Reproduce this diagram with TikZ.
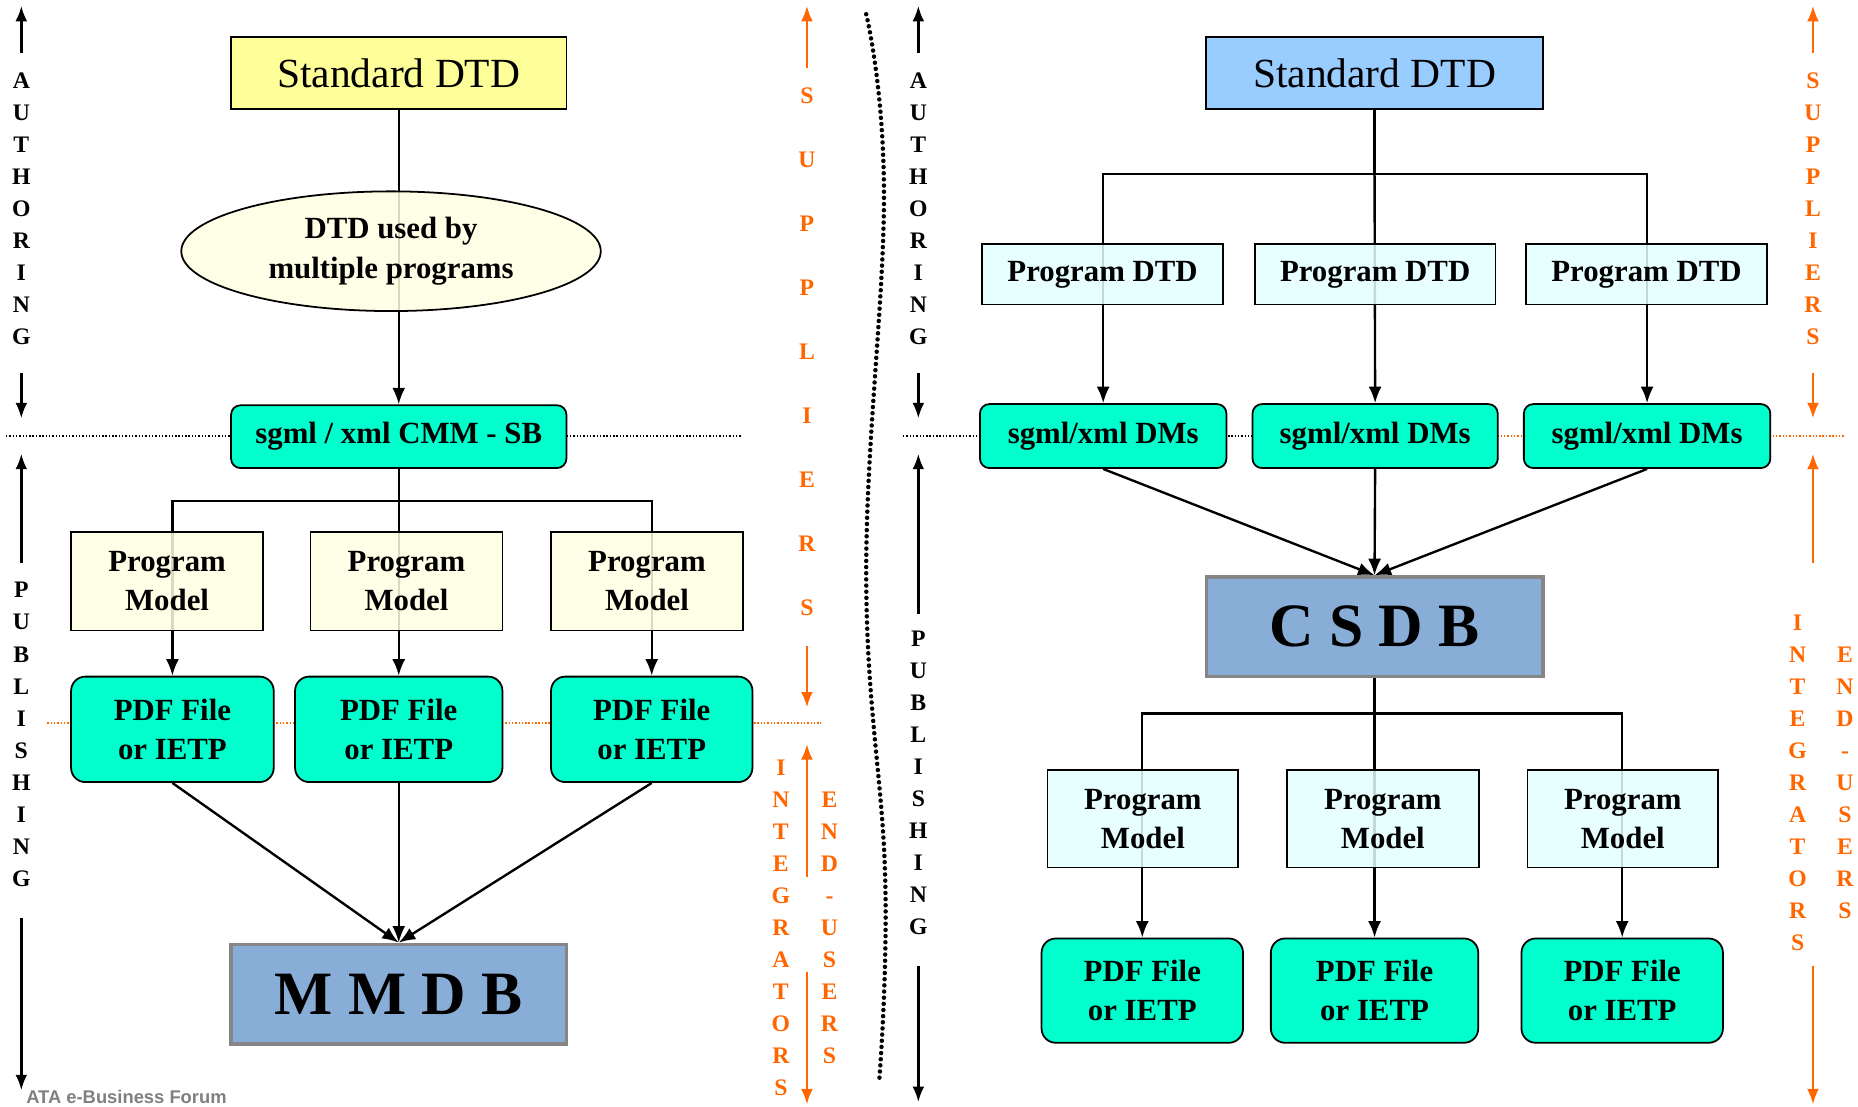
\documentclass[tikz,border=0pt]{standalone}
\usepackage{fontspec}
\setmainfont{Liberation Serif}
\newfontfamily\footfont{Liberation Sans}
\usetikzlibrary{arrows.meta,shapes.geometric}
\definecolor{yel}{HTML}{FFFF99}
\definecolor{lyel}{HTML}{FFFFE5}
\definecolor{cyn}{HTML}{00FFCC}
\definecolor{lblue}{HTML}{99CCFF}
\definecolor{lcyn}{HTML}{E5FFFF}
\definecolor{dbblue}{HTML}{88AED8}
\definecolor{org}{HTML}{FF6600}
\pgfdeclarelayer{back}
\pgfdeclarelayer{bg}
\pgfsetlayers{back,bg,main}
\tikzset{
  box/.style={draw=black,line width=1.5pt,inner sep=0pt,align=center,
    font=\bfseries\fontsize{26}{33}\selectfont},
  stdbox/.style={box,minimum width=283pt,minimum height=61pt,
    font=\fontsize{35}{40}\selectfont},
  soft/.style={fill opacity=0.85,text opacity=1},
  cyanbox/.style={box,fill=cyn,rounded corners=12pt},
  dbbox/.style={draw=gray!95,line width=3pt,fill=dbblue,minimum width=283pt,
    minimum height=84pt,inner sep=0pt,font=\bfseries\fontsize{52}{56}\selectfont},
  conn/.style={line width=2pt,draw=black},
  arr/.style={conn,-{Latex[length=14pt,width=11pt]}},
  side/.style={line width=2pt,-{Latex[length=13pt,width=10pt]}},
  letters/.style={align=center,inner sep=0pt,font=\bfseries\fontsize{20}{27}\selectfont},
  sepdots/.style={line width=1.2pt,dash pattern=on 1.2pt off 1.6pt},
}
\begin{document}
\begin{tikzpicture}[x=1pt,y=-1pt]
\begin{pgfonlayer}{back}
\fill[white] (0,0) rectangle (1568,934);
\end{pgfonlayer}
\useasboundingbox (0,0) rectangle (1568,934);

% ---------------- LEFT PANEL ----------------
\node[stdbox,fill=yel] (sd1) at (336.5,61.5) {Standard DTD};
\node[ellipse,draw=black,line width=1.5pt,fill=lyel,soft,minimum width=354pt,minimum height=101pt,
      inner sep=0pt,align=center,font=\bfseries\fontsize{26}{33}\selectfont] (ell) at (330,212)
      {DTD used by\\multiple programs};
\node[cyanbox,rounded corners=8pt,minimum width=283pt,minimum height=53pt] (cmm) at (336.5,368.5) {sgml / xml CMM - SB};
\node[box,fill=lyel,soft,minimum width=162pt,minimum height=83pt] (pm1) at (141,490.5) {Program\\Model};
\node[box,fill=lyel,soft,minimum width=162pt,minimum height=83pt] (pm2) at (343,490.5) {Program\\Model};
\node[box,fill=lyel,soft,minimum width=162pt,minimum height=83pt] (pm3) at (546,490.5) {Program\\Model};
\node[cyanbox,minimum width=171pt,minimum height=89pt] (pdf1) at (145.5,615.5) {PDF File\\or IETP};
\node[cyanbox,minimum width=175pt,minimum height=89pt] (pdf2) at (336.5,615.5) {PDF File\\or IETP};
\node[cyanbox,minimum width=170pt,minimum height=89pt] (pdf3) at (550,615.5) {PDF File\\or IETP};
\node[dbbox] (mmdb) at (336.5,839) {M M D B};
\coordinate (bar1) at (336.5,423);

% ---------------- RIGHT PANEL ----------------
\node[stdbox,fill=lblue,minimum width=284pt] (sd2) at (1160,61.5) {Standard DTD};
\node[box,fill=lcyn,soft,minimum width=203pt,minimum height=51pt] (pd1) at (930.5,231.5) {Program DTD};
\node[box,fill=lcyn,soft,minimum width=203pt,minimum height=51pt] (pd2) at (1160.5,231.5) {Program DTD};
\node[box,fill=lcyn,soft,minimum width=203pt,minimum height=51pt] (pd3) at (1389.5,231.5) {Program DTD};
\node[cyanbox,rounded corners=8pt,minimum width=208pt,minimum height=54pt] (dm1) at (931,368) {sgml/xml DMs};
\node[cyanbox,rounded corners=8pt,minimum width=207pt,minimum height=54pt] (dm2) at (1160.5,368) {sgml/xml DMs};
\node[cyanbox,rounded corners=8pt,minimum width=208pt,minimum height=54pt] (dm3) at (1390,368) {sgml/xml DMs};
\node[dbbox,minimum width=284pt] (csdb) at (1160,529) {C S D B};
\node[box,fill=lcyn,soft,minimum width=161pt,minimum height=82pt] (pmr1) at (964.5,691) {Program\\Model};
\node[box,fill=lcyn,soft,minimum width=162pt,minimum height=82pt] (pmr2) at (1167,691) {Program\\Model};
\node[box,fill=lcyn,soft,minimum width=161pt,minimum height=82pt] (pmr3) at (1369.5,691) {Program\\Model};
\node[cyanbox,minimum width=170pt,minimum height=88pt] (pdfr1) at (964,836) {PDF File\\or IETP};
\node[cyanbox,minimum width=175pt,minimum height=88pt] (pdfr2) at (1160,836) {PDF File\\or IETP};
\node[cyanbox,minimum width=170pt,minimum height=88pt] (pdfr3) at (1369,836) {PDF File\\or IETP};
\coordinate (bar2) at (1160,147);
\coordinate (bar3) at (1160,602);

% ---------------- CONNECTORS (behind boxes) ----------------
\begin{pgfonlayer}{bg}
  \draw[arr] (sd1.south) -- (cmm.north);
  \draw[conn] (cmm.south) -- (bar1);
  \draw[arr] (bar1) -| (pdf1.north);
  \draw[arr] (bar1) -- (pdf2.north);
  \draw[arr] (bar1) -| (pdf3.north);
  \draw[arr] (pdf1.south) -- (mmdb.north);
  \draw[arr] (pdf2.south) -- (mmdb.north);
  \draw[arr] (pdf3.south) -- (mmdb.north);

  \draw[conn] (sd2.south) -- (bar2);
  \draw[arr] (bar2) -| (dm1.north);
  \draw[arr] (bar2) -- (dm2.north);
  \draw[arr] (bar2) -| (dm3.north);
  \draw[arr] (dm1.south) -- (csdb.north);
  \draw[arr] (dm2.south) -- (csdb.north);
  \draw[arr] (dm3.south) -- (csdb.north);
  \draw[conn] (csdb.south) -- (bar3);
  \draw[arr] (bar3) -| (pdfr1.north);
  \draw[arr] (bar3) -- (pdfr2.north);
  \draw[arr] (bar3) -| (pdfr3.north);

  % separators
  \coordinate (s1a) at (5,368); \coordinate (s1b) at (625,368);
  \draw[sepdots] (s1a) -- (s1b);
  \coordinate (s2a) at (40,610); \coordinate (s2b) at (693,610);
  \draw[sepdots,draw=org] (s2a) -- (s2b);
  \coordinate (s3a) at (762,368); \coordinate (s3b) at (1160,368); \coordinate (s3c) at (1557,368);
  \draw[sepdots] (s3a) -- (s3b);
  \draw[sepdots,draw=org] (s3b) -- (s3c);
\end{pgfonlayer}

% ---------------- SIDE LABELS ----------------
% left black column
\node[letters] (authL) at (18,176) {A\\U\\T\\H\\O\\R\\I\\N\\G};
\node[letters,font=\bfseries\fontsize{20}{27.1}\selectfont] (pubL) at (18,620) {P\\U\\B\\L\\I\\S\\H\\I\\N\\G};
\coordinate (la1) at (18,45); \coordinate (la2) at (18,5);
\coordinate (la3) at (18,315); \coordinate (la4) at (18,353);
\coordinate (la5) at (18,475); \coordinate (la6) at (18,383);
\coordinate (la7) at (18,775); \coordinate (la8) at (18,920);
\draw[side] (la1) -- (la2); \draw[side] (la3) -- (la4);
\draw[side] (la5) -- (la6); \draw[side] (la7) -- (la8);

% right black column
\node[letters] (authR) at (775,176) {A\\U\\T\\H\\O\\R\\I\\N\\G};
\node[letters] (pubR) at (775,661) {P\\U\\B\\L\\I\\S\\H\\I\\N\\G};
\coordinate (ra1) at (775,45); \coordinate (ra2) at (775,5);
\coordinate (ra3) at (775,315); \coordinate (ra4) at (775,353);
\coordinate (ra5) at (775,518); \coordinate (ra6) at (775,383);
\coordinate (ra7) at (775,815); \coordinate (ra8) at (775,930);
\draw[side] (ra1) -- (ra2); \draw[side] (ra3) -- (ra4);
\draw[side] (ra5) -- (ra6); \draw[side] (ra7) -- (ra8);

% left orange column
\node[letters,text=org,font=\bfseries\fontsize{20}{54}\selectfont] (supL) at (681,297) {S\\U\\P\\P\\L\\I\\E\\R\\S};
\node[letters,text=org] (intL) at (659,783) {I\\N\\T\\E\\G\\R\\A\\T\\O\\R\\S};
\node[letters,text=org] (endL) at (700,783) {E\\N\\D\\-\\U\\S\\E\\R\\S};
\coordinate (lo1) at (681,57); \coordinate (lo2) at (681,5);
\coordinate (lo3) at (681,545); \coordinate (lo4) at (681,597);
\coordinate (lo5) at (681,740); \coordinate (lo6) at (681,628);
\coordinate (lo7) at (681,820); \coordinate (lo8) at (681,932);
\draw[side,draw=org,color=org] (lo1) -- (lo2); \draw[side,draw=org,color=org] (lo3) -- (lo4);
\draw[side,draw=org,color=org] (lo5) -- (lo6); \draw[side,draw=org,color=org] (lo7) -- (lo8);

% right orange column
\node[letters,text=org] (supR) at (1530,176) {S\\U\\P\\P\\L\\I\\E\\R\\S};
\node[letters,text=org] (intR) at (1517,661) {I\\N\\T\\E\\G\\R\\A\\T\\O\\R\\S};
\node[letters,text=org] (endR) at (1557,661) {E\\N\\D\\-\\U\\S\\E\\R\\S};
\coordinate (ro1) at (1530,45); \coordinate (ro2) at (1530,5);
\coordinate (ro3) at (1530,315); \coordinate (ro4) at (1530,353);
\coordinate (ro5) at (1530,475); \coordinate (ro6) at (1530,383);
\coordinate (ro7) at (1530,815); \coordinate (ro8) at (1530,932);
\draw[side,draw=org,color=org] (ro1) -- (ro2); \draw[side,draw=org,color=org] (ro3) -- (ro4);
\draw[side,draw=org,color=org] (ro5) -- (ro6); \draw[side,draw=org,color=org] (ro7) -- (ro8);

% dotted wavy divider
\draw[line width=3.8pt,line cap=round,dash pattern=on 0pt off 5.2pt]
  plot[smooth,tension=0.7] coordinates {(731,12) (746,165) (731,485) (747,740) (742,912)};

% footer
\node[anchor=base west,inner sep=0pt,text=gray,font=\footfont\bfseries\fontsize{15.5}{17}\selectfont] (foot) at (22,931) {ATA e-Business Forum};
\end{tikzpicture}
\end{document}
